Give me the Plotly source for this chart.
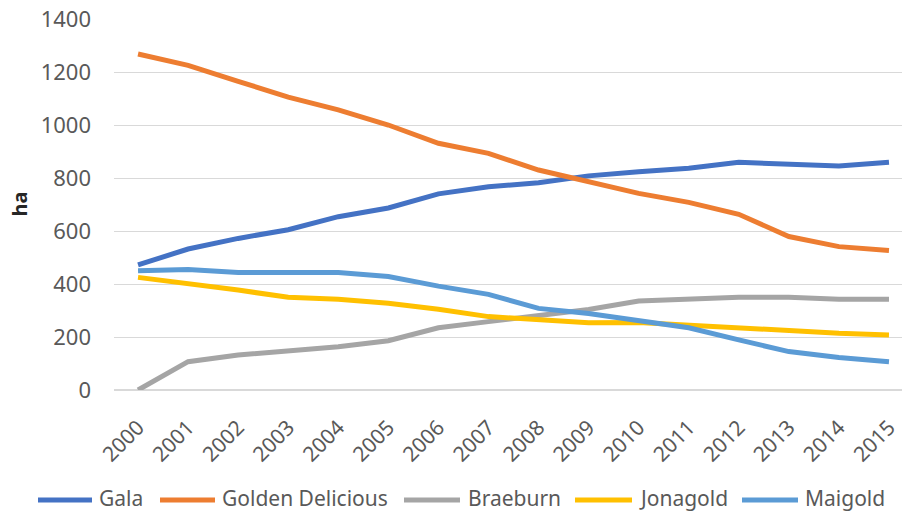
import plotly.graph_objects as go

years = [str(y) for y in range(2000, 2016)]

gala = [472, 532, 572, 605, 654, 687, 740, 767, 782, 808, 824, 837, 859, 853, 845, 859]
golden_delicious = [1268, 1225, 1165, 1105, 1057, 1000, 931, 893, 830, 786, 742, 708, 663, 579, 541, 526]
braeburn = [0, 107, 132, 147, 163, 186, 235, 258, 283, 304, 336, 343, 350, 350, 342, 342]
jonagold = [425, 403, 377, 350, 342, 327, 305, 277, 264, 254, 255, 245, 235, 223, 214, 208]
maigold = [450, 455, 443, 443, 443, 428, 392, 361, 308, 289, 260, 235, 189, 145, 123, 107]

series = [
    ("Gala", gala, "#4472C4"),
    ("Golden Delicious", golden_delicious, "#ED7D31"),
    ("Braeburn", braeburn, "#A5A5A5"),
    ("Jonagold", jonagold, "#FFC000"),
    ("Maigold", maigold, "#5B9BD5"),
]

W, H = 902, 511
ML, MR, MT, MB = 114, 0, 19, 121
PW, PH = W - ML - MR, H - MT - MB

def px_x(p):
    return (p - ML) / PW

def px_y(p):
    return (H - MB - p) / PH

font_family = "Noto Sans, Liberation Sans, sans-serif"
gray = "#595959"

fig = go.Figure()
for name, vals, color in series:
    fig.add_trace(go.Scatter(
        x=years, y=vals, name=name, mode="lines",
        line=dict(color=color, width=5), showlegend=False,
    ))

# bottom legend: a short line swatch followed by the series name
legend_line_px = [(38, 92), (160, 215), (404, 460), (575, 632), (742, 798)]
legend_text_px = [97, 220, 466, 637, 803]
legend_y_px = 500
shapes, annotations = [], []
for (name, _, color), (x0, x1), tx in zip(series, legend_line_px, legend_text_px):
    shapes.append(dict(
        type="line", xref="paper", yref="paper",
        x0=px_x(x0), x1=px_x(x1), y0=px_y(legend_y_px), y1=px_y(legend_y_px),
        line=dict(color=color, width=5),
    ))
    annotations.append(dict(
        text=name, xref="paper", yref="paper", x=px_x(tx), y=px_y(legend_y_px - 2),
        xanchor="left", yanchor="middle", showarrow=False,
        font=dict(size=21, color=gray, family=font_family),
    ))

annotations.append(dict(
    text="<b>ha</b>", xref="paper", yref="paper", x=px_x(19), y=0.5,
    xanchor="center", yanchor="middle", textangle=-90, showarrow=False,
    font=dict(size=20, color="#262626", family=font_family),
))

fig.update_layout(
    width=W, height=H,
    margin=dict(l=ML, r=MR, t=MT, b=MB),
    paper_bgcolor="white", plot_bgcolor="white",
    font=dict(family=font_family, size=21, color=gray),
    showlegend=False,
    shapes=shapes,
    annotations=annotations,
    xaxis=dict(
        type="category", range=[-0.48, 15.26],
        tickangle=-45, showgrid=False, showline=False, zeroline=False,
        ticks="", ticklabelstandoff=20, tickfont=dict(size=21, color=gray),
    ),
    yaxis=dict(
        range=[0, 1400], dtick=200, showgrid=True, gridcolor="#D9D9D9", gridwidth=1,
        zeroline=True, zerolinecolor="#D9D9D9", zerolinewidth=1.5,
        showline=False, ticks="", ticklabelstandoff=22,
        tickfont=dict(size=22, color=gray),
    ),
)

fig.write_html("out.html")
